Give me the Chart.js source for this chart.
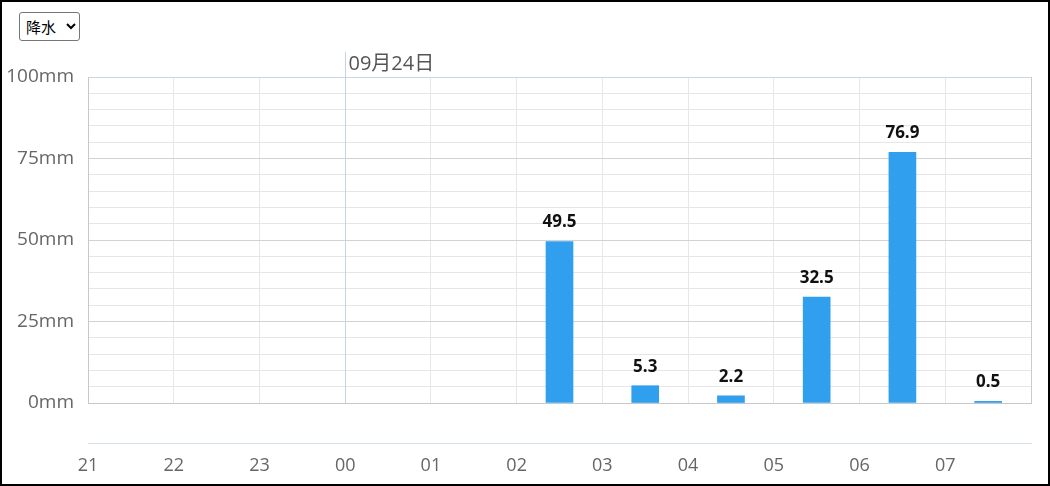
<!DOCTYPE html>
<html>
<head>
<meta charset="utf-8">
<script src="https://cdn.jsdelivr.net/npm/chart.js@4/dist/chart.umd.min.js"></script>
<style>
  html, body { margin:0; padding:0; background:#fff; }
  #wrap { position:relative; width:1050px; height:486px; overflow:hidden; }
  #c { position:absolute; left:0; top:0; }
  #frame { position:absolute; left:0; top:0; width:1050px; height:486px; box-sizing:border-box; border:2px solid #000; pointer-events:none; }
  #sel { position:absolute; left:19px; top:12px; width:61px; height:29px; font-family:"Noto Sans CJK SC", sans-serif; font-size:15px; border:1px solid #767676; border-radius:3px; background:#fff; color:#000; padding:0 2px; }
</style>
</head>
<body>
<div id="wrap">
  <canvas id="c" width="1050" height="486"></canvas>
  <select id="sel"><option>降水</option></select>
  <div id="frame"></div>
</div>
<script>
const hourLabels = ['21','22','23','00','01','02','03','04','05','06','07','08'];
const rainHours = ['02','03','04','05','06','07'];
const rainValues = [49.5, 5.3, 2.2, 32.5, 76.9, 0.5];
const yTickLabels = ['0mm','25mm','50mm','75mm','100mm'];
const dayLabel = '09月24日';
const dayStartHour = '00';

const FONT = '"Open Sans", "Noto Sans CJK SC", sans-serif';
const points = rainHours.map((h, i) => ({ x: hourLabels.indexOf(h) + 0.5, y: rainValues[i] }));
const dayIdx = hourLabels.indexOf(dayStartHour);

const extras = {
  id: 'extras',
  afterDraw(chart) {
    const ctx = chart.ctx;
    const xs = chart.scales.x, ys = chart.scales.y;
    const dx = Math.round(xs.getPixelForValue(dayIdx)) + 0.5;
    ctx.save();
    ctx.strokeStyle = '#c6d3e1';
    ctx.lineWidth = 1;
    ctx.beginPath();
    ctx.moveTo(dx, ys.top - 25);
    ctx.lineTo(dx, ys.bottom);
    ctx.stroke();
    ctx.fillStyle = '#555';
    ctx.font = '20px ' + FONT;
    ctx.textAlign = 'left';
    ctx.textBaseline = 'middle';
    ctx.fillText(dayLabel, dx + 3, ys.top - 13);
    const meta = chart.getDatasetMeta(0);
    ctx.fillStyle = '#111';
    ctx.font = 'bold 17px ' + FONT;
    ctx.textAlign = 'center';
    ctx.textBaseline = 'middle';
    meta.data.forEach((bar, i) => {
      ctx.fillText(String(rainValues[i]), bar.x, bar.y - 19);
    });
    ctx.restore();
  }
};

new Chart(document.getElementById('c'), {
  type: 'bar',
  data: {
    datasets: [{
      data: points,
      backgroundColor: '#2f9fee',
      borderWidth: 0,
      barThickness: 27,
      xAxisID: 'x',
      yAxisID: 'y'
    }]
  },
  options: {
    responsive: false,
    animation: false,
    events: [],
    layout: { padding: { top: 77, right: 19, left: 0, bottom: 0 } },
    plugins: { legend: { display: false }, tooltip: { enabled: false } },
    scales: {
      x: {
        type: 'linear', position: 'bottom', min: 0, max: hourLabels.length - 1, offset: false,
        ticks: { stepSize: 1, display: false },
        grid: {
          offset: false,
          drawTicks: false,
          color: (c) => {
            if (c.tick && c.tick.value === dayIdx) return 'rgba(0,0,0,0)';
            if (c.tick && c.tick.value === hourLabels.length - 1) return '#cccccc';
            return '#e8e8e8';
          }
        },
        border: { color: '#c8c8c8' },
        afterFit: (s) => { s.height = 40; }
      },
      x2: {
        type: 'linear', position: 'bottom', min: 0, max: hourLabels.length - 1, offset: false,
        grid: { display: false, drawTicks: false, offset: false },
        border: { color: '#d5e0ea' },
        ticks: {
          stepSize: 1, padding: 12, color: '#666',
          font: { family: FONT, size: 18 },
          maxRotation: 0, autoSkip: false,
          callback: (v) => (v < hourLabels.length - 1 ? hourLabels[v] : '')
        },
        afterFit: (s) => { s.height = 43; }
      },
      y: {
        min: 0, max: 100,
        ticks: {
          stepSize: 5, padding: 14, color: '#666', autoSkip: false,
          font: { family: FONT, size: 19 },
          callback: (v) => (v % 25 === 0 ? yTickLabels[v / 25] : '')
        },
        grid: {
          drawTicks: false,
          color: (c) => {
            const v = c.tick ? c.tick.value : 0;
            if (v === 100) return '#c8d8e8';
            if (v % 25 === 0) return '#d2d2d2';
            return '#e6e6e6';
          }
        },
        border: { color: '#c8c8c8' },
        afterFit: (s) => { s.width = 88; }
      }
    }
  },
  plugins: [extras]
});
</script>
</body>
</html>
